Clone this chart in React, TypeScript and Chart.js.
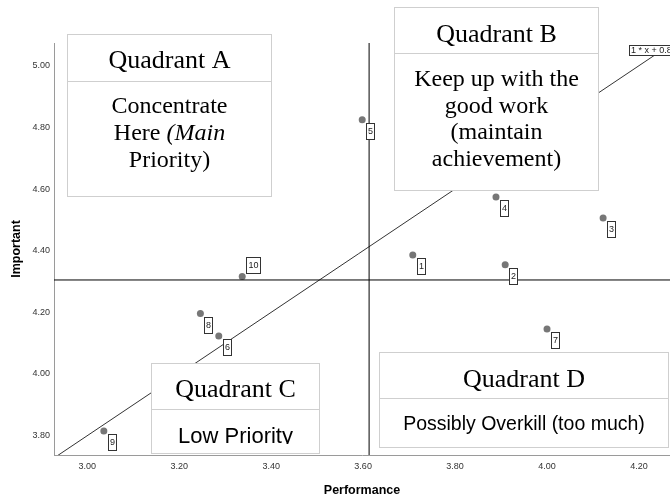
import React, { useEffect, useRef } from 'react';
import { Chart, registerables } from 'chart.js';

Chart.register(...registerables);

// ---- data ----
const POINT_IDS = ['1', '2', '3', '4', '5', '6', '7', '8', '9', '10'];
const PERFORMANCE = [3.708, 3.909, 4.122, 3.889, 3.598, 3.286, 4.0, 3.246, 3.036, 3.337];
const IMPORTANCE = [4.386, 4.354, 4.506, 4.574, 4.825, 4.123, 4.146, 4.196, 3.815, 4.316];
const X_TICKS = [3.0, 3.2, 3.4, 3.6, 3.8, 4.0, 4.2];
const Y_TICKS = [3.8, 4.0, 4.2, 4.4, 4.6, 4.8, 5.0];
const X_RANGE = [2.9276, 4.2675];
const Y_RANGE = [3.7373, 5.0736];
const PERF_REF = 3.613;
const IMP_REF = 4.305;
const FIT_SLOPE = 1;
const FIT_INTERCEPT = 0.8;
const FIT_X = [2.9276, 4.245];
const FIT_LABEL = '1 * x + 0.8';
const X_TITLE = 'Performance';
const Y_TITLE = 'Important';

// ---- styling / overlay layout ----
const SERIF = '"Liberation Serif", "Times New Roman", serif';
const SANS = '"Liberation Sans", Arial, sans-serif';
const LABELS_ABOVE = ['10'];

type Seg = { t: string; i?: boolean };
const QUADRANTS = [
  {
    title: 'Quadrant A',
    lines: [[{ t: 'Concentrate' }], [{ t: 'Here ' }, { t: '(Main', i: true }], [{ t: 'Priority)' }]] as Seg[][],
    bodyFamily: SERIF, bodySize: 24,
    x: 67, y: 34, w: 204, h: 162, div: 81, titleBase: 68, bodyBase: [113, 140, 167],
  },
  {
    title: 'Quadrant B',
    lines: [[{ t: 'Keep up with the' }], [{ t: 'good work' }], [{ t: '(maintain' }], [{ t: 'achievement)' }]] as Seg[][],
    bodyFamily: SERIF, bodySize: 24,
    x: 394, y: 7, w: 204, h: 183, div: 53, titleBase: 42, bodyBase: [86, 113, 139, 166],
  },
  {
    title: 'Quadrant C',
    lines: [[{ t: 'Low Priority' }]] as Seg[][],
    bodyFamily: SANS, bodySize: 22,
    x: 151, y: 363, w: 168, h: 90, div: 409, titleBase: 397, bodyBase: [443], clipBottom: 444,
  },
  {
    title: 'Quadrant D',
    lines: [[{ t: 'Possibly Overkill (too much)' }]] as Seg[][],
    bodyFamily: SANS, bodySize: 19.5,
    x: 379, y: 352, w: 289, h: 95, div: 398, titleBase: 387, bodyBase: [430],
  },
];

const overlayPlugin = {
  id: 'overlay',
  afterDatasetsDraw(chart: any) {
    const ctx: CanvasRenderingContext2D = chart.ctx;
    const xs = chart.scales.x;
    const ys = chart.scales.y;
    ctx.save();

    // quadrant boxes
    for (const q of QUADRANTS) {
      ctx.fillStyle = '#fff';
      ctx.fillRect(q.x, q.y, q.w, q.h);
      ctx.strokeStyle = '#cfcfcf';
      ctx.lineWidth = 1;
      ctx.strokeRect(q.x + 0.5, q.y + 0.5, q.w, q.h);
      ctx.beginPath();
      ctx.moveTo(q.x, q.div + 0.5);
      ctx.lineTo(q.x + q.w, q.div + 0.5);
      ctx.stroke();

      const cx = q.x + q.w / 2 + 0.5;
      ctx.fillStyle = '#000';
      ctx.textBaseline = 'alphabetic';
      ctx.textAlign = 'left';
      ctx.font = `26px ${SERIF}`;
      const tw = ctx.measureText(q.title).width;
      ctx.fillText(q.title, cx - tw / 2, q.titleBase);

      ctx.save();
      if ((q as any).clipBottom) {
        ctx.beginPath();
        ctx.rect(q.x, q.div, q.w, (q as any).clipBottom - q.div);
        ctx.clip();
      }
      q.lines.forEach((segs, li) => {
        const fonts = segs.map((s) => `${s.i ? 'italic ' : ''}${q.bodySize}px ${q.bodyFamily}`);
        let total = 0;
        const widths = segs.map((s, k) => {
          ctx.font = fonts[k];
          const w = ctx.measureText(s.t).width;
          total += w;
          return w;
        });
        let px = cx - total / 2;
        segs.forEach((s, k) => {
          ctx.font = fonts[k];
          ctx.fillText(s.t, px, q.bodyBase[li]);
          px += widths[k];
        });
      });
      ctx.restore();
    }

    // point labels
    ctx.font = `9px ${SANS}`;
    ctx.textAlign = 'center';
    ctx.textBaseline = 'middle';
    POINT_IDS.forEach((id, i) => {
      const px = xs.getPixelForValue(PERFORMANCE[i]);
      const py = ys.getPixelForValue(IMPORTANCE[i]);
      const w = id.length > 1 ? 14 : 8;
      const h = 16;
      const bx = Math.round(px + 4);
      const by = LABELS_ABOVE.includes(id) ? Math.round(py - 20) : Math.round(py + 3);
      ctx.fillStyle = '#fff';
      ctx.fillRect(bx, by, w, h);
      ctx.strokeStyle = '#333';
      ctx.strokeRect(bx + 0.5, by + 0.5, w, h);
      ctx.fillStyle = '#222';
      ctx.fillText(id, bx + w / 2 + 0.5, by + h / 2 + 1);
    });

    // fit label
    const fx = 629, fy = 45;
    ctx.fillStyle = '#fff';
    ctx.fillRect(fx, fy, 44, 10);
    ctx.strokeStyle = '#333';
    ctx.strokeRect(fx + 0.5, fy + 0.5, 44, 10);
    ctx.fillStyle = '#222';
    ctx.textAlign = 'left';
    ctx.fillText(FIT_LABEL, fx + 2, fy + 6);

    ctx.restore();
  },
};

export default function App() {
  const ref = useRef<HTMLCanvasElement>(null);
  useEffect(() => {
    const canvas = ref.current;
    if (!canvas) return;
    const tickFont = { family: SANS, size: 9 };
    const titleFont = { family: SANS, size: 12.5, weight: 'bold' as const };
    const chart = new Chart(canvas, {
      type: 'scatter',
      data: {
        datasets: [
          {
            type: 'line',
            data: [{ x: X_RANGE[0], y: IMP_REF }, { x: X_RANGE[1], y: IMP_REF }],
            borderColor: '#000', borderWidth: 1, pointRadius: 0, fill: false,
          } as any,
          {
            type: 'line',
            data: [{ x: PERF_REF, y: Y_RANGE[0] }, { x: PERF_REF, y: Y_RANGE[1] }],
            borderColor: '#000', borderWidth: 1, pointRadius: 0, fill: false,
          } as any,
          {
            type: 'line',
            data: FIT_X.map((x) => ({ x, y: FIT_SLOPE * x + FIT_INTERCEPT })),
            borderColor: '#333', borderWidth: 1, pointRadius: 0, fill: false,
          } as any,
          {
            type: 'scatter',
            data: PERFORMANCE.map((x, i) => ({ x, y: IMPORTANCE[i] })),
            backgroundColor: '#777', borderColor: '#777', borderWidth: 0, pointRadius: 3.5,
          } as any,
        ],
      },
      options: {
        animation: false,
        responsive: true,
        maintainAspectRatio: false,
        layout: { autoPadding: false, padding: { top: 43, left: 0, right: 0, bottom: 0 } },
        plugins: { legend: { display: false }, tooltip: { enabled: false } },
        scales: {
          x: {
            type: 'linear',
            min: X_RANGE[0],
            max: X_RANGE[1],
            afterBuildTicks: (s: any) => { s.ticks = X_TICKS.map((v) => ({ value: v })); },
            afterFit: (s: any) => { s.height = 48; s.paddingLeft = 0; s.paddingRight = 0; },
            ticks: {
              callback: (v: any) => Number(v).toFixed(2),
              font: tickFont, color: '#333', padding: 6, autoSkip: false, maxRotation: 0,
            },
            grid: { display: false, drawTicks: false },
            border: { display: true, color: '#9a9a9a', width: 1 },
            title: { display: true, text: X_TITLE, font: titleFont, color: '#000', padding: { top: 0, bottom: 5 } },
          },
          y: {
            type: 'linear',
            min: Y_RANGE[0],
            max: Y_RANGE[1],
            afterBuildTicks: (s: any) => { s.ticks = Y_TICKS.map((v) => ({ value: v })); },
            afterFit: (s: any) => { s.width = 54; s.paddingTop = 0; s.paddingBottom = 0; },
            ticks: {
              callback: (v: any) => Number(v).toFixed(2),
              font: tickFont, color: '#333', padding: 4, autoSkip: false,
            },
            grid: { display: false, drawTicks: false },
            border: { display: true, color: '#9a9a9a', width: 1 },
            title: { display: true, text: Y_TITLE, font: titleFont, color: '#000', padding: { top: 9, bottom: 0 } },
          },
        },
      } as any,
      plugins: [overlayPlugin],
    });
    return () => chart.destroy();
  }, []);
  return (
    <div style={{ position: 'absolute', left: 0, top: 0, width: 670, height: 503 }}>
      <canvas ref={ref} />
    </div>
  );
}
